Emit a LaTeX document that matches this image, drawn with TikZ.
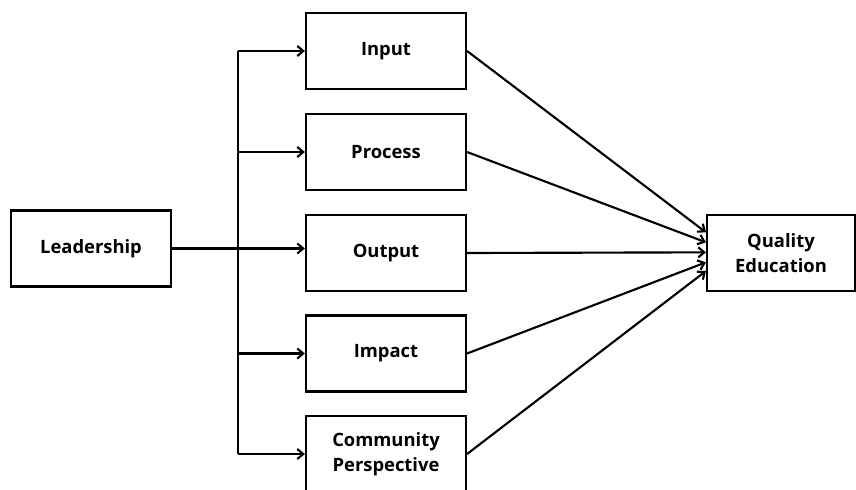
\documentclass[tikz,border=0pt]{standalone}
\usepackage{fontspec}
\setmainfont{Open Sans}
\usetikzlibrary{arrows.meta}

\tikzset{
  box/.style={draw, line width=1.6pt, minimum width=120pt, minimum height=57pt,
    align=center, font=\bfseries\fontsize{13.8}{18.5}\selectfont, inner sep=2pt},
  link/.style={line width=1.6pt, -{Straight Barb[length=4.5pt,width=7.5pt]}}
}

\begin{document}
\begin{tikzpicture}[x=0.75pt, y=-0.75pt]

  \useasboundingbox (0,0) rectangle (856,489);

  % Source and target
  \node[box] (lead) at (91,248.5) {Leadership};
  \node[box, minimum width=111pt] (qe) at (781,253) {Quality\\Education};

  % Middle column
  \node[box] (in)   at (386,51)  {Input};
  \node[box] (proc) at (386,152) {Process};
  \node[box] (out)  at (386,253) {Output};
  \node[box] (imp)  at (386,353.5) {Impact};
  \node[box] (comm) at (386,454) {Community\\Perspective};

  \coordinate (trunk) at (238,0);

  % Trunk and branches
  \draw[line width=1.6pt] (trunk |- in.west) -- (trunk |- comm.west);
  \draw[link] (lead.east) -- (lead.east -| out.west);
  \draw[link] (trunk |- in.west)   -- (in.west);
  \draw[link] (trunk |- proc.west) -- (proc.west);
  \draw[link] (trunk |- imp.west)  -- (imp.west);
  \draw[link] (trunk |- comm.west) -- (comm.west);

  % Lines into quality education
  \draw[link] (in.east)   -- ([yshift=15.5pt]qe.west);
  \draw[link] (proc.east) -- ([yshift=8pt]qe.west);
  \draw[link] (out.east)  -- ([yshift=0.5pt]qe.west);
  \draw[link] (imp.east)  -- ([yshift=-7pt]qe.west);
  \draw[link] (comm.east) -- ([yshift=-13.5pt]qe.west);

\end{tikzpicture}
\end{document}
